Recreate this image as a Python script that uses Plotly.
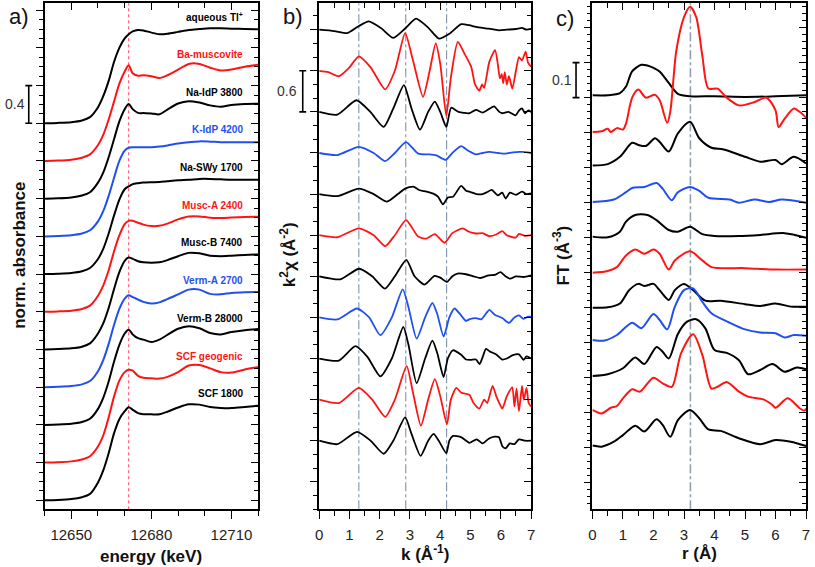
import plotly.graph_objects as go

W, H = 815, 567

# ---------------- panel a) XANES ----------------
energy = [12640, 12645, 12650, 12654, 12657, 12660, 12662, 12664, 12666, 12668, 12670, 12671.5,
          12673, 12675, 12677, 12680, 12683, 12686, 12690, 12694, 12698, 12702, 12706, 12710, 12715, 12720]
a_aqueous = [0.0, 0.004, 0.012, 0.03, 0.065, 0.17, 0.29, 0.45, 0.65, 0.8, 0.9, 0.945, 0.975, 0.99, 0.985, 0.962, 0.945, 0.95, 0.97, 0.99, 1.0, 1.008, 1.008, 1.004, 1.0, 0.997]
a_ba_musc = [0.0, 0.004, 0.014, 0.035, 0.07, 0.17, 0.28, 0.44, 0.63, 0.82, 0.95, 1.015, 0.93, 0.905, 0.91, 0.9, 0.88, 0.91, 0.97, 1.03, 1.03, 0.99, 0.96, 0.97, 1.0, 1.02]
a_na_idp = [0.0, 0.004, 0.013, 0.033, 0.068, 0.17, 0.28, 0.44, 0.63, 0.82, 0.95, 1.005, 0.95, 0.91, 0.908, 0.905, 0.895, 0.945, 1.01, 1.035, 1.02, 0.99, 0.975, 0.995, 1.005, 1.008]
a_k_idp = [0.0, 0.004, 0.012, 0.03, 0.065, 0.16, 0.27, 0.43, 0.62, 0.8, 0.91, 0.94, 0.945, 0.946, 0.945, 0.945, 0.953, 0.965, 0.985, 1.0, 1.008, 1.005, 1.0, 1.0, 1.0, 1.0]
a_na_swy = [0.0, 0.004, 0.012, 0.03, 0.065, 0.16, 0.27, 0.43, 0.62, 0.79, 0.9, 0.93, 0.955, 0.965, 0.972, 0.975, 0.977, 0.985, 0.995, 1.0, 1.01, 1.01, 1.005, 1.0, 1.0, 1.0]
a_musc_a = [0.0, 0.004, 0.012, 0.03, 0.065, 0.17, 0.28, 0.44, 0.64, 0.81, 0.93, 0.965, 0.965, 0.945, 0.925, 0.91, 0.912, 0.935, 0.98, 1.01, 1.012, 0.998, 0.996, 1.0, 1.005, 1.008]
a_musc_b = [0.0, 0.004, 0.012, 0.03, 0.065, 0.17, 0.28, 0.44, 0.64, 0.82, 0.94, 0.975, 0.962, 0.937, 0.925, 0.92, 0.925, 0.948, 0.99, 1.025, 1.02, 0.995, 0.99, 0.995, 1.003, 1.008]
a_verm_a = [0.0, 0.004, 0.012, 0.03, 0.065, 0.17, 0.29, 0.46, 0.66, 0.83, 0.94, 0.976, 0.955, 0.93, 0.905, 0.888, 0.9, 0.935, 0.985, 1.035, 1.035, 0.99, 0.985, 1.0, 1.008, 1.01]
a_verm_b = [0.0, 0.004, 0.012, 0.03, 0.065, 0.17, 0.29, 0.46, 0.67, 0.85, 0.97, 1.01, 0.96, 0.92, 0.905, 0.88, 0.905, 0.955, 1.02, 1.047, 1.025, 0.975, 0.96, 0.985, 1.005, 1.018]
a_scf_geo = [0.0, 0.004, 0.013, 0.033, 0.068, 0.17, 0.29, 0.48, 0.7, 0.87, 0.96, 0.985, 0.975, 0.92, 0.9, 0.895, 0.891, 0.91, 0.96, 1.03, 1.035, 1.0, 0.96, 0.955, 0.988, 1.015]
a_scf1800 = [0.0, 0.004, 0.013, 0.033, 0.068, 0.19, 0.32, 0.5, 0.71, 0.86, 0.945, 0.987, 0.96, 0.925, 0.913, 0.912, 0.913, 0.94, 0.985, 1.018, 1.015, 0.99, 0.98, 0.978, 0.99, 1.004]
a_edge_line = [12671.5]
a_offset_step = 0.4

# ---------------- panel b) EXAFS k2chi (k, value) ----------------
b_aqueous = [(0, 0), (0.5, -0.02), (0.93, -0.05), (1.3, 0.05), (1.64, 0.12), (2.05, 0.02), (2.45, -0.12), (2.85, 0.02),
             (3.2, 0.16), (3.6, 0.03), (3.96, -0.13), (4.3, -0.06), (4.69, 0.08), (4.96, 0.065), (5.18, 0.04), (5.6, 0.015),
             (5.94, -0.01), (6.2, 0.0), (6.5, 0.01), (6.7, 0.025), (6.85, 0.0), (7, 0.01)]
b_ba_musc = [(0, 0), (0.3, -0.02), (0.65, -0.08), (1.0, 0.05), (1.31, 0.21), (1.7, 0.05), (2.18, -0.27), (2.5, 0.0),
             (2.84, 0.55), (3.1, 0.15), (3.43, -0.38), (3.65, 0.0), (3.85, 0.4), (4.0, 0.1), (4.2, -0.66), (4.35, -0.1),
             (4.58, 0.42), (4.8, 0.25), (5.02, 0.06), (5.15, -0.2), (5.29, -0.29), (5.38, -0.2), (5.45, -0.25), (5.62, 0.13),
             (5.81, 0.3), (5.9, 0.1), (5.97, -0.11), (6.03, -0.05), (6.08, -0.18), (6.13, -0.02), (6.2, -0.2), (6.27, -0.08),
             (6.38, -0.26), (6.5, 0.0), (6.6, 0.2), (6.7, 0.15), (6.82, 0.28), (6.9, 0.12), (7, 0.06)]
b_na_idp = [(0, 0), (0.6, -0.04), (1.23, 0.17), (1.69, 0.0), (2.13, -0.22), (2.45, 0.05), (2.8, 0.39), (3.05, 0.05),
            (3.33, -0.26), (3.6, 0.0), (3.82, 0.15), (4.0, 0.0), (4.2, -0.22), (4.36, 0.06), (4.6, 0.0), (4.96, -0.02),
            (5.18, 0.03), (5.4, -0.01), (5.6, 0.04), (5.78, 0.08), (5.95, 0.0), (6.05, -0.02), (6.25, 0.0), (6.49, -0.05),
            (6.6, 0.02), (6.7, 0.05), (6.8, -0.02), (6.9, 0.02), (7, 0.0)]
b_k_idp = [(0, 0), (0.6, -0.03), (1.31, 0.09), (1.8, 0.0), (2.18, -0.12), (2.5, 0.0), (2.87, 0.16), (3.27, -0.01),
           (3.65, -0.02), (3.87, -0.035), (4.18, -0.1), (4.4, 0.0), (4.69, 0.1), (4.9, 0.04), (5.18, -0.02), (5.4, 0.0),
           (5.62, 0.015), (5.9, 0.0), (6.16, -0.01), (6.4, 0.01), (6.7, 0.015), (7, 0.0)]
b_na_swy = [(0, 0), (0.6, -0.03), (1.31, 0.08), (1.8, 0.0), (2.24, -0.11), (2.6, 0.0), (2.84, 0.08), (3.11, 0.11),
            (3.3, 0.06), (3.54, 0.035), (3.8, 0.0), (3.93, -0.04), (4.09, -0.15), (4.25, -0.05), (4.42, -0.04), (4.69, 0.12),
            (4.85, 0.05), (5.0, 0.03), (5.2, 0.0), (5.4, 0.0), (5.55, 0.03), (5.7, 0.06), (5.9, -0.02), (6.05, 0.02),
            (6.16, -0.065), (6.3, 0.02), (6.5, -0.01), (6.7, 0.035), (6.85, 0.0), (7, 0.01)]
b_musc_a = [(0, 0), (0.6, -0.03), (1.31, 0.1), (1.8, 0.0), (2.18, -0.16), (2.5, 0.0), (2.87, 0.22), (3.27, -0.02),
            (3.54, -0.05), (3.82, 0.015), (4.14, -0.11), (4.4, 0.03), (4.74, 0.1), (4.95, 0.05), (5.18, 0.025), (5.4, 0.03),
            (5.62, -0.015), (5.85, 0.01), (6.05, 0.06), (6.2, 0.0), (6.49, -0.035), (6.6, 0.02), (6.8, -0.01), (7, 0.0)]
b_musc_b = [(0, 0), (0.7, -0.044), (1.32, 0.11), (1.75, 0.0), (2.17, -0.18), (2.5, 0.0), (2.88, 0.24), (3.15, 0.0),
            (3.48, -0.12), (3.81, 0.005), (4.0, -0.02), (4.22, -0.083), (4.4, 0.0), (4.57, 0.04), (4.85, 0.03), (5.1, 0.0),
            (5.33, -0.025), (5.6, 0.015), (5.8, 0.02), (5.99, 0.06), (6.15, 0.0), (6.31, -0.035), (6.5, 0.0), (6.75, -0.01),
            (7, 0.015)]
b_verm_a = [(0, 0), (0.6, -0.03), (1.25, 0.13), (1.65, 0.0), (2.02, -0.26), (2.4, 0.0), (2.76, 0.41), (2.95, 0.15),
            (3.22, -0.31), (3.5, 0.0), (3.74, 0.21), (3.9, 0.05), (4.11, -0.28), (4.3, 0.0), (4.47, 0.13), (4.65, 0.05),
            (4.85, -0.05), (5.0, -0.02), (5.18, -0.01), (5.35, -0.03), (5.5, 0.05), (5.62, 0.11), (5.8, 0.04), (6.05, -0.01),
            (6.27, -0.08), (6.45, 0.0), (6.6, 0.03), (6.75, -0.02), (6.9, 0.01), (7, 0.01)]
b_verm_b = [(0, 0), (0.65, -0.03), (1.2, 0.18), (1.6, 0.02), (2.02, -0.26), (2.4, 0.0), (2.78, 0.46), (2.95, 0.2),
            (3.22, -0.36), (3.5, 0.0), (3.74, 0.26), (3.9, 0.08), (4.11, -0.27), (4.25, 0.0), (4.42, 0.12), (4.7, 0.05),
            (4.85, -0.015), (5.0, -0.02), (5.18, -0.015), (5.3, -0.08), (5.4, 0.02), (5.51, 0.14), (5.65, 0.1), (5.85, 0.06),
            (6.05, -0.015), (6.2, 0.0), (6.4, 0.05), (6.6, 0.06), (6.75, -0.02), (6.85, 0.03), (7, 0.0)]
b_scf_geo = [(0, 0), (0.65, -0.05), (1.31, 0.17), (1.75, 0.0), (2.18, -0.25), (2.5, 0.0), (2.89, 0.49), (3.1, 0.1),
             (3.36, -0.38), (3.6, 0.0), (3.82, 0.3), (4.0, 0.05), (4.22, -0.36), (4.35, 0.0), (4.53, 0.17), (4.7, 0.1),
             (4.96, 0.07), (5.1, -0.05), (5.29, -0.13), (5.45, 0.0), (5.55, -0.05), (5.73, 0.2), (5.85, 0.05), (5.95, -0.05),
             (6.05, -0.13), (6.2, 0.05), (6.38, 0.18), (6.45, -0.1), (6.52, 0.16), (6.6, -0.17), (6.7, 0.2), (6.76, 0.0),
             (6.85, 0.17), (6.92, -0.05), (7, -0.1)]
b_scf1800 = [(0, 0), (0.6, -0.05), (1.25, 0.13), (1.7, 0.0), (2.13, -0.19), (2.45, 0.0), (2.84, 0.34), (3.05, 0.1),
             (3.35, -0.22), (3.6, 0.0), (3.78, 0.1), (3.95, 0.0), (4.2, -0.18), (4.3, 0.0), (4.42, 0.07), (4.7, 0.05),
             (4.96, -0.03), (5.2, 0.02), (5.4, -0.04), (5.6, 0.03), (5.8, 0.06), (5.94, 0.05), (6.05, -0.08), (6.16, -0.11),
             (6.3, -0.04), (6.45, -0.05), (6.6, 0.02), (6.8, 0.0), (7, 0.0)]
b_ref_k = [1.31, 2.86, 4.21]
b_offset_step = 0.6

# ---------------- panel c) FT magnitude (r, value) ----------------
c_aqueous = [(0, 0.007), (0.5, 0.007), (0.9, 0.013), (1.1, 0.032), (1.3, 0.075), (1.6, 0.094), (1.8, 0.092), (2.0, 0.085),
             (2.2, 0.075), (2.5, 0.042), (2.8, 0.011), (3.2, 0.004), (4.0, 0.004), (5.0, 0.002), (6.0, 0.004), (7.0, 0.007)]
c_ba_musc = [(0, 0.002), (0.3, 0.004), (0.5, 0.011), (0.6, 0.002), (0.8, 0.013), (1.0, 0.009), (1.1, 0.026), (1.3, 0.1),
             (1.5, 0.123), (1.75, 0.1), (2.05, 0.108), (2.2, 0.093), (2.45, 0.028), (2.55, 0.06), (2.75, 0.235), (3.0, 0.33),
             (3.2, 0.36), (3.4, 0.33), (3.6, 0.22), (3.8, 0.126), (4.1, 0.126), (4.4, 0.1), (4.8, 0.078), (5.3, 0.087),
             (5.7, 0.1), (6.0, 0.064), (6.1, 0.016), (6.3, 0.04), (6.6, 0.069), (6.8, 0.059), (7.0, 0.043)]
c_na_idp = [(0, 0.006), (0.5, 0.01), (0.9, 0.031), (1.3, 0.071), (1.5, 0.065), (1.75, 0.062), (2.05, 0.084), (2.2, 0.074),
            (2.5, 0.046), (2.8, 0.098), (3.2, 0.131), (3.5, 0.084), (3.9, 0.057), (4.3, 0.052), (5.0, 0.031), (5.5, 0.017),
            (6.0, 0.022), (6.2, 0.01), (6.6, 0.031), (7.0, 0.012)]
c_k_idp = [(0, 0.002), (0.7, 0.009), (1.1, 0.03), (1.3, 0.042), (1.7, 0.045), (2.1, 0.056), (2.3, 0.04), (2.6, 0.007),
           (2.8, 0.03), (3.2, 0.045), (3.5, 0.034), (3.8, 0.014), (4.5, 0.009), (4.8, 0.0), (5.3, 0.009), (5.8, 0.002),
           (6.2, 0.009), (7.0, 0.0)]
c_na_swy = [(0, 0.003), (0.5, 0.001), (0.9, 0.017), (1.1, 0.046), (1.4, 0.065), (1.8, 0.065), (2.1, 0.05), (2.5, 0.022),
            (2.8, 0.017), (3.2, 0.031), (3.6, 0.01), (4.0, 0.005), (4.8, 0.005), (5.5, 0.008), (6.3, 0.013), (7.0, 0.0)]
c_musc_a = [(0, 0.0), (0.5, 0.005), (0.8, 0.016), (1.1, 0.049), (1.4, 0.066), (1.7, 0.054), (2.0, 0.066), (2.2, 0.054),
            (2.5, 0.009), (2.7, 0.035), (3.2, 0.061), (3.6, 0.035), (3.9, 0.016), (5.0, 0.013), (6.0, 0.009), (7.0, 0.009)]
c_musc_b = [(0, 0.0), (0.5, 0.001), (0.9, 0.012), (1.2, 0.05), (1.5, 0.068), (1.7, 0.062), (2.0, 0.068), (2.2, 0.05),
            (2.5, 0.022), (2.7, 0.05), (3.0, 0.068), (3.3, 0.05), (3.7, 0.02), (4.2, 0.02), (5.0, 0.01), (5.5, 0.005),
            (6.0, 0.012), (6.5, 0.003), (7.0, 0.003)]
c_verm_a = [(0, 0.008), (0.4, 0.006), (0.8, 0.022), (1.3, 0.057), (1.6, 0.041), (2.0, 0.082), (2.2, 0.065), (2.45, 0.038),
            (2.7, 0.103), (3.0, 0.15), (3.3, 0.155), (3.6, 0.117), (3.9, 0.084), (4.5, 0.057), (5.0, 0.038), (5.5, 0.029),
            (6.0, 0.027), (6.3, 0.015), (6.6, 0.022), (7.0, 0.02)]
c_verm_b = [(0, 0.005), (0.5, 0.01), (1.0, 0.027), (1.4, 0.058), (1.7, 0.039), (2.1, 0.088), (2.3, 0.074), (2.5, 0.055),
            (2.8, 0.125), (3.1, 0.16), (3.4, 0.167), (3.7, 0.141), (4.0, 0.079), (4.4, 0.071), (4.8, 0.05), (5.1, 0.01),
            (5.5, 0.022), (5.9, 0.039), (6.3, 0.017), (6.7, 0.029), (7.0, 0.024)]
c_scf_geo = [(0, 0.008), (0.3, -0.002), (0.6, 0.014), (0.8, 0.019), (1.0, 0.041), (1.3, 0.067), (1.55, 0.06), (2.0, 0.1),
             (2.3, 0.084), (2.6, 0.074), (2.9, 0.169), (3.3, 0.224), (3.6, 0.165), (3.9, 0.069), (4.1, 0.074), (4.4, 0.088),
             (4.8, 0.06), (5.1, 0.046), (5.6, 0.038), (5.9, 0.022), (6.0, 0.014), (6.4, 0.041), (6.8, 0.012), (6.95, 0.006),
             (7.0, 0.012)]
c_scf1800 = [(0, 0.006), (0.3, 0.003), (0.7, 0.017), (1.0, 0.036), (1.4, 0.063), (1.7, 0.046), (2.1, 0.081), (2.3, 0.065),
             (2.55, 0.031), (2.8, 0.079), (3.2, 0.108), (3.5, 0.084), (3.8, 0.052), (4.2, 0.048), (4.8, 0.027), (5.5, 0.01),
             (6.0, 0.022), (6.5, 0.017), (7.0, 0.005)]
c_ref_r = [3.21]
c_offset_step = 0.1

# sample order top -> bottom
sample_names = ["aqueous Tl<sup>+</sup>", "Ba-muscovite", "Na-IdP 3800", "K-IdP 4200", "Na-SWy 1700", "Musc-A 2400",
                "Musc-B 7400", "Verm-A 2700", "Verm-B 28000", "SCF geogenic", "SCF 1800"]
BLACK, RED, BLUE = "#000000", "#ff1414", "#1f4ff0"
sample_colors = [BLACK, RED, BLACK, BLUE, BLACK, RED, BLACK, BLUE, BLACK, RED, BLACK]

a_series = [a_aqueous, a_ba_musc, a_na_idp, a_k_idp, a_na_swy, a_musc_a, a_musc_b, a_verm_a, a_verm_b, a_scf_geo, a_scf1800]
b_series = [b_aqueous, b_ba_musc, b_na_idp, b_k_idp, b_na_swy, b_musc_a, b_musc_b, b_verm_a, b_verm_b, b_scf_geo, b_scf1800]
c_series = [c_aqueous, c_ba_musc, c_na_idp, c_k_idp, c_na_swy, c_musc_a, c_musc_b, c_verm_a, c_verm_b, c_scf_geo, c_scf1800]
N = len(sample_names)

FONT = "Liberation Sans, Arial, sans-serif"


def px(x):
    return x / W


def py(y):
    return 1 - y / H


fig = go.Figure()

for j in range(N):
    n_below = N - 1 - j
    col = sample_colors[j]
    fig.add_trace(go.Scatter(x=energy, y=[v + a_offset_step * n_below for v in a_series[j]],
                             mode="lines", line=dict(color=col, width=2, shape="spline", smoothing=0.8),
                             xaxis="x", yaxis="y", hoverinfo="skip"))
    fig.add_trace(go.Scatter(x=[p[0] for p in b_series[j]], y=[p[1] + b_offset_step * n_below for p in b_series[j]],
                             mode="lines", line=dict(color=col, width=1.8, shape="spline", smoothing=0.6),
                             xaxis="x2", yaxis="y2", hoverinfo="skip"))
    fig.add_trace(go.Scatter(x=[p[0] for p in c_series[j]], y=[p[1] + c_offset_step * n_below for p in c_series[j]],
                             mode="lines", line=dict(color=col, width=2, shape="spline", smoothing=0.8),
                             xaxis="x3", yaxis="y3", hoverinfo="skip"))

# dummy traces for mirrored (inside-tick) axes
for xa, ya in [("x4", "y"), ("x5", "y2"), ("x6", "y3"), ("x", "y4"), ("x2", "y5"), ("x3", "y6")]:
    fig.add_trace(go.Scatter(x=[None], y=[None], xaxis=xa, yaxis=ya, showlegend=False, hoverinfo="skip"))

ydom = [py(509.3), py(3.3)]
xdoms = [[px(41), px(256.7)], [px(318.3), px(532.3)], [px(594.3), px(810)]]
xranges = [[12640, 12720], [0, 7], [0, 7]]
yranges = [[-0.0955, 5.273], [-1.001, 6.385], [-0.176, 1.2696]]
xticks = [(12650, 30, 10), (0, 1, 0.5), (0, 1, 0.5)]
yticks = [(0, 0.4, 0.1), (0, 0.6, 0.2), (0, 0.1, 0.02)]

layout = dict(width=W, height=H, margin=dict(l=0, r=0, t=0, b=0), showlegend=False,
              paper_bgcolor="white", plot_bgcolor="white")

LW = 1.6
for i in range(3):
    s = "" if i == 0 else str(i + 1)
    so = str(i + 4)
    t0, dt, mdt = xticks[i]
    layout["xaxis" + s] = dict(domain=xdoms[i], range=xranges[i], anchor="y" + s, showline=True, linecolor="black",
                               linewidth=LW, mirror=True, ticks="outside", ticklen=8, tickwidth=1.4, tickcolor="black",
                               tick0=t0, dtick=dt, showgrid=False, zeroline=False, tickformat="d",
                               tickfont=dict(family=FONT, size=15, color="#222"), ticklabelstandoff=3,
                               minor=dict(ticks="outside", ticklen=4.5, tickwidth=1.2, tickcolor="black", tick0=t0, dtick=mdt,
                                          showgrid=False))
    layout["xaxis" + so] = dict(domain=xdoms[i], range=xranges[i], overlaying="x" + s, anchor="y" + s, side="top",
                                showline=False, ticks="inside", ticklen=7, tickwidth=1.4, tickcolor="black",
                                tick0=t0, dtick=dt, showgrid=False, zeroline=False, showticklabels=False,
                                minor=dict(ticks="inside", ticklen=4.5, tickwidth=1.2, tickcolor="black", tick0=t0,
                                           dtick=mdt, showgrid=False))
    t0, dt, mdt = yticks[i]
    layout["yaxis" + s] = dict(domain=ydom, range=yranges[i], anchor="x" + s, showline=True, linecolor="black",
                               linewidth=LW, mirror=True, ticks="outside", ticklen=7, tickwidth=1.4, tickcolor="black",
                               tick0=t0, dtick=dt, showgrid=False, zeroline=False, showticklabels=False,
                               minor=dict(ticks="outside", ticklen=4, tickwidth=1.2, tickcolor="black", tick0=t0, dtick=mdt,
                                          showgrid=False))
    layout["yaxis" + so] = dict(domain=ydom, range=yranges[i], overlaying="y" + s, anchor="x" + s, side="right",
                                showline=False, ticks="inside", ticklen=7, tickwidth=1.4, tickcolor="black",
                                tick0=t0, dtick=dt, showgrid=False, zeroline=False, showticklabels=False,
                                minor=dict(ticks="inside", ticklen=4, tickwidth=1.2, tickcolor="black", tick0=t0,
                                           dtick=mdt, showgrid=False))

fig.update_layout(**layout)

shapes = []
for e in a_edge_line:
    shapes.append(dict(type="line", xref="x", yref="y domain", x0=e, x1=e, y0=0, y1=1,
                       line=dict(color="#ff4466", width=1, dash="dot"), layer="below"))
for k in b_ref_k:
    shapes.append(dict(type="line", xref="x2", yref="y2 domain", x0=k, x1=k, y0=0, y1=1,
                       line=dict(color="#7e93a8", width=1.1, dash="dashdot"), layer="below"))
for r in c_ref_r:
    shapes.append(dict(type="line", xref="x3", yref="y3 domain", x0=r, x1=r, y0=0, y1=1,
                       line=dict(color="#8fa0b2", width=1.6, dash="dashdot"), layer="below"))

# scale bars: (x pixel, y axis, y0, y1, label, label x pixel)
scale_bars = [(25, "y", 4.0, 4.4, "0.4", 11), (301.7, "y2", 4.8, 5.4, "0.6", 286), (577.7, "y3", 1.0, 1.1, "0.1", 564)]
annotations = []
for xb, yr, y0, y1, lab, lx in scale_bars:
    shapes.append(dict(type="line", xref="paper", yref=yr, x0=px(xb), x1=px(xb), y0=y0, y1=y1,
                       line=dict(color="black", width=1.6)))
    for yy in (y0, y1):
        shapes.append(dict(type="line", xref="paper", yref=yr, x0=px(xb - 3.5), x1=px(xb + 3.5), y0=yy, y1=yy,
                           line=dict(color="black", width=1.6)))
    annotations.append(dict(xref="paper", yref=yr, x=px(lx), y=(y0 + y1) / 2, text=lab, showarrow=False,
                            xanchor="center", yanchor="middle", font=dict(family=FONT, size=14, color="#333")))

# sample labels in panel a
for j in range(N):
    n_below = N - 1 - j
    annotations.append(dict(xref="paper", yref="y", x=px(243.5), y=a_offset_step * n_below + 1.13,
                            text="<b>" + sample_names[j] + "</b>", showarrow=False, xanchor="right", yanchor="middle",
                            font=dict(family=FONT, size=10, color=sample_colors[j])))

# panel letters
for lab, x, y in [("a)", 15, 17), ("b)", 292, 17), ("c)", 567, 18)]:
    annotations.append(dict(xref="paper", yref="paper", x=px(x), y=py(y), text=lab, showarrow=False,
                            xanchor="center", yanchor="middle", font=dict(family=FONT, size=22, color="#111")))

# axis titles
for txt, x, y, ang in [("<b>energy (keV)</b>", 148, 556, 0), ("<b>k (Å<sup>-1</sup>)</b>", 425, 553, 0),
                       ("<b>r (Å)</b>", 702, 553, 0), ("<b>norm. absorbance</b>", 15, 255, -90),
                       ("<b>k<sup>2</sup>χ (Å<sup>-2</sup>)</b>", 287, 255, -90), ("<b>FT (Å<sup>-3</sup>)</b>", 563, 255, -90)]:
    annotations.append(dict(xref="paper", yref="paper", x=px(x), y=py(y), text=txt, showarrow=False, textangle=ang,
                            xanchor="center", yanchor="middle", font=dict(family=FONT, size=17, color="#111")))

fig.update_layout(shapes=shapes, annotations=annotations)
fig.write_html("out.html", config={"displayModeBar": False},
               post_script="document.body.style.margin='0';document.body.style.padding='0';"
                           "document.documentElement.style.overflow='hidden';")
